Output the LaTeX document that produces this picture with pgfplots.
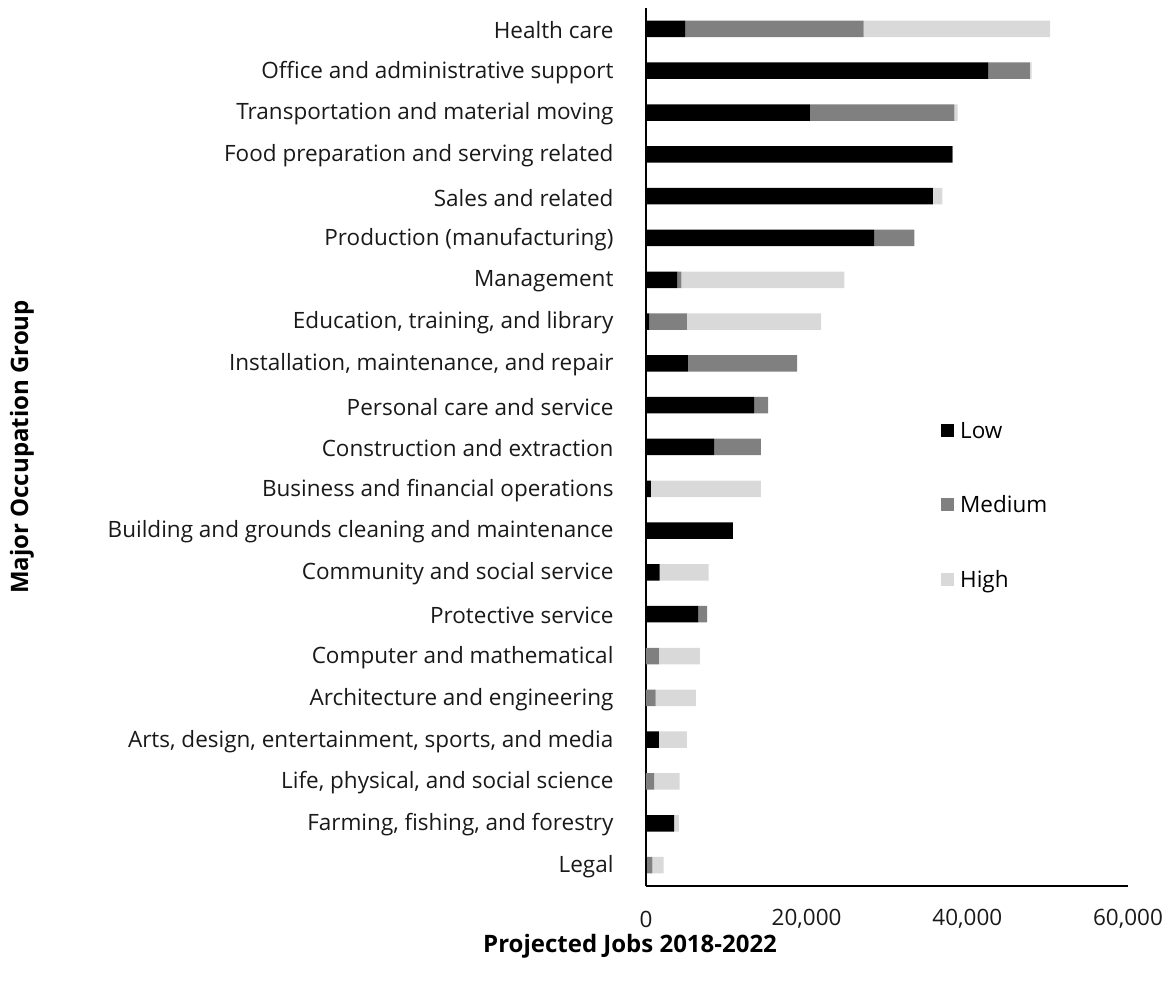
\documentclass[border=0pt]{standalone}
\usepackage{fontspec}
\setmainfont{Open Sans}
\usepackage{pgfplots}
\usepackage{pgfplotstable}
\pgfplotsset{compat=1.18}
\definecolor{cLow}{HTML}{000000}
\definecolor{cMed}{HTML}{808080}
\definecolor{cHigh}{HTML}{D9D9D9}
% y: 20 = Health care (top) ... 0 = Legal (bottom)
\pgfplotstableread{
y low med high
20 4900 22200 23200
19 42600 5200 200
18 20400 18000 400
17 38100 100 0
16 35700 0 1200
15 28400 5000 0
14 3900 500 20300
13 400 4700 16700
12 5200 13600 0
11 13500 1700 0
10 8500 5800 0
9 600 0 13700
8 10800 0 0
7 1700 0 6100
6 6500 1100 0
5 0 1600 5100
4 0 1200 5000
3 1600 0 3500
2 0 1000 3200
1 3500 0 600
0 100 700 1400
}\jobs
\newcommand{\lblfont}{\fontsize{22.5bp}{26bp}\selectfont}
\newcommand{\boldfont}{\fontsize{24bp}{28bp}\selectfont\bfseries}
\begin{document}
\begin{tikzpicture}
\path[use as bounding box] (-646bp,-99bp) rectangle (525bp,886bp);
\begin{axis}[
  at={(0,0)}, anchor=south west,
  width=482bp, height=878bp, scale only axis,
  xbar stacked, bar width=16.5bp,
  xmin=0, xmax=60000, ymin=-0.5, ymax=20.5,
  xtick={0,20000,40000,60000},
  ytick={0,...,20},
  yticklabels={Legal,{Farming, fishing, and forestry},{Life, physical, and social science},{Arts, design, entertainment, sports, and media},Architecture and engineering,Computer and mathematical,Protective service,Community and social service,Building and grounds cleaning and maintenance,Business and financial operations,Construction and extraction,Personal care and service,{Installation, maintenance, and repair},{Education, training, and library},Management,Production (manufacturing),Sales and related,Food preparation and serving related,Transportation and material moving,Office and administrative support,Health care},
  scaled x ticks=false,
  /pgf/number format/1000 sep={,},
  /pgf/number format/assume math mode=true,
  axis x line=bottom, axis y line=left,
  axis line style={-, black, line width=1.4bp},
  major tick length=0pt,
  tick label style={font=\lblfont, text=black!90},
  yticklabel style={anchor=east, xshift=-29bp, yshift=-1.5bp},
  xticklabel style={anchor=center, yshift=-33bp},
  xlabel={Projected Jobs 2018-2022},
  xlabel style={at={(axis description cs:-0.033,-0.069)}, anchor=center, font=\boldfont},
  ylabel={Major Occupation Group},
  ylabel style={at={(axis description cs:-1.295,0.5)}, anchor=center, rotate=0, font=\boldfont},
  legend style={at={(axis description cs:0.612,0.531)}, anchor=north west, draw=none, fill=none, font=\lblfont, row sep=52bp, inner sep=0pt, nodes={inner xsep=6bp}},
  legend cell align=left,
  legend image code/.code={\fill[#1] (0bp,-6.5bp) rectangle (13bp,6.5bp);},
  every axis plot/.append style={draw=none},
]
\addplot[fill=cLow] table[x=low, y=y] {\jobs};
\addplot[fill=cMed] table[x=med, y=y] {\jobs};
\addplot[fill=cHigh] table[x=high, y=y] {\jobs};
\legend{Low,Medium,High}
\end{axis}
\end{tikzpicture}
\end{document}
